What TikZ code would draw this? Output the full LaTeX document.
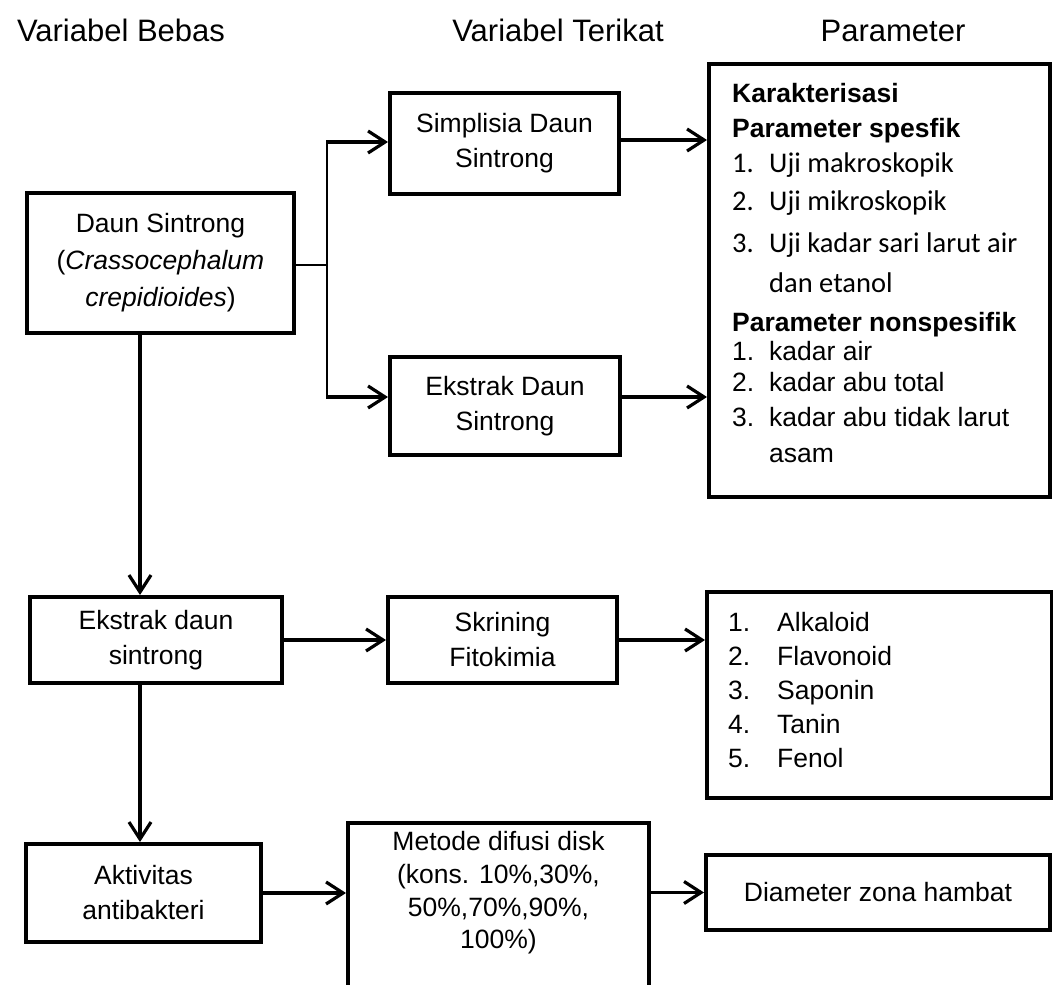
\documentclass[tikz,border=0pt]{standalone}
\usepackage{fontspec}
\setmainfont{Liberation Sans}
\newfontfamily\calfont{Carlito}
\usetikzlibrary{arrows.meta,calc}
\begin{document}
\begin{tikzpicture}[x=1pt,y=-1pt,
  box/.style={draw, line width=4pt, rectangle, inner sep=0pt, align=center,
    font=\fontsize{26.5}{35}\selectfont},
  arr/.style={line width=3.2pt, -{Straight Barb[length=17pt,width=22pt]}},
  thinline/.style={line width=1.8pt},
  ttl/.style={font=\fontsize{31}{35}\selectfont, anchor=base, inner sep=0pt},
  txt/.style={font=\fontsize{26.5}{35}\selectfont, anchor=base west, inner sep=0pt},
  ctxt/.style={font=\calfont\fontsize{28.5}{35}\selectfont, anchor=base west, inner sep=0pt},
  btxt/.style={font=\bfseries\fontsize{26.5}{35}\selectfont, anchor=base west, inner sep=0pt}]
\useasboundingbox (0,0) rectangle (1053,985);

% titles
\node[ttl] (t1) at (121,41) {Variabel Bebas};
\node[ttl] (t2) at (558,41) {Variabel Terikat};
\node[ttl] (t3) at (893,41) {Parameter};

% boxes
\node[box, minimum width=267pt, minimum height=140pt, font=\fontsize{26.5}{37}\selectfont] (daun) at (160.5,263)
  {Daun Sintrong\\(\textit{Crassocephalum}\\\textit{crepidioides})};
\node[box, minimum width=229pt, minimum height=101pt] (simp) at (504.5,143.5) {Simplisia Daun\\Sintrong};
\node[box, minimum width=230pt, minimum height=98pt] (ekstrak) at (505,406) {Ekstrak Daun\\Sintrong};
\node[box, minimum width=341pt, minimum height=433pt] (param) at (879.5,280.5) {};
\node[box, minimum width=252pt, minimum height=86pt] (ekstrak2) at (156,640) {Ekstrak daun\\sintrong};
\node[box, minimum width=229pt, minimum height=86pt] (skrining) at (502.5,640) {Skrining\\Fitokimia};
\node[box, minimum width=345pt, minimum height=206pt] (list) at (879.5,695) {};
\node[box, minimum width=235pt, minimum height=98pt] (aktiv) at (143.5,893) {Aktivitas\\antibakteri};
\node[box, minimum width=301pt, minimum height=177pt] (metode) at (498.5,911.5) {};
\node[align=center, inner sep=0pt, font=\fontsize{26.5}{32.7}\selectfont] (metodetxt) at (498.5,893)
  {Metode difusi disk\\(kons. 10\%,30\%,\\50\%,70\%,90\%,\\100\%)};
\node[box, minimum width=344pt, minimum height=75pt] (diam) at (878,892.5) {Diameter zona hambat};

% parameter box text
\node[btxt] (p1) at (732,102) {Karakterisasi};
\node[btxt] (p2) at (732,137) {Parameter spesfik};
\node[ctxt] (p3n) at (732,172) {1.};
\node[ctxt] (p3) at (769,172) {Uji makroskopik};
\node[ctxt] (p4n) at (732,210) {2.};
\node[ctxt] (p4) at (769,210) {Uji mikroskopik};
\node[ctxt] (p5n) at (732,252) {3.};
\node[ctxt] (p5) at (769,252) {Uji kadar sari larut air};
\node[ctxt] (p6) at (769,292) {dan etanol};
\node[btxt] (p7) at (732,331) {Parameter nonspesifik};
\node[txt] (p8n) at (732,360) {1.};
\node[txt] (p8) at (769,360) {kadar air};
\node[txt] (p9n) at (732,391) {2.};
\node[txt] (p9) at (769,391) {kadar abu total};
\node[txt] (p10n) at (732,426) {3.};
\node[txt] (p10) at (769,426) {kadar abu tidak larut};
\node[txt] (p11) at (769,462) {asam};

% phytochemical list
\node[txt] (l1n) at (728,631) {1.};
\node[txt] (l1) at (777,631) {Alkaloid};
\node[txt] (l2n) at (728,665) {2.};
\node[txt] (l2) at (777,665) {Flavonoid};
\node[txt] (l3n) at (728,699) {3.};
\node[txt] (l3) at (777,699) {Saponin};
\node[txt] (l4n) at (728,733) {4.};
\node[txt] (l4) at (777,733) {Tanin};
\node[txt] (l5n) at (728,767) {5.};
\node[txt] (l5) at (777,767) {Fenol};

% connectors
\coordinate (jt) at (327,142);
\coordinate (jb) at (327,397);
\coordinate (dx) at (140,0);
\draw[thinline] (daun.east |- 0,265) -- (327,265);
\draw[thinline] (jt) -- (jb);
\draw[arr] ([xshift=-0.9pt]jt) -- (jt -| simp.west);
\draw[arr] ([xshift=-0.9pt]jb) -- (jb -| ekstrak.west);
\draw[arr] (simp.east |- 0,140) -- (param.west |- 0,140);
\draw[arr] (ekstrak.east |- jb) -- (param.west |- jb);
\draw[arr] (daun.south -| dx) -- (ekstrak2.north -| dx);
\draw[arr] (ekstrak2.south -| dx) -- (aktiv.north -| dx);
\draw[arr] (ekstrak2.east) -- (skrining.west);
\draw[arr] (skrining.east) -- (skrining.east -| list.west);
\draw[arr] (aktiv.east) -- (aktiv.east -| metode.west);
\draw[arr] (metode.east |- diam.west) -- (diam.west);
\end{tikzpicture}
\end{document}
